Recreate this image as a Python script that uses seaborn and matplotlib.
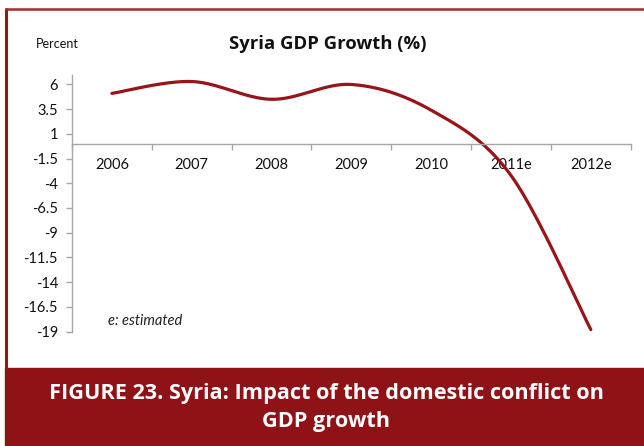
import numpy as np
import pandas as pd
import matplotlib
matplotlib.use("Agg")
import matplotlib.pyplot as plt
import seaborn as sns
from matplotlib.patches import Rectangle
from matplotlib.lines import Line2D

categories = ["2006", "2007", "2008", "2009", "2010", "2011e", "2012e"]
growth = [5.1, 6.3, 4.5, 6.0, 3.4, -3.2, -18.8]
y_ticks = [6, 3.5, 1, -1.5, -4, -6.5, -9, -11.5, -14, -16.5, -19]

RED = "#981418"
BANNER = "#8e1216"
FONT = "Lato"
HEAD = "Open Sans"

sns.set_theme(style="white")
plt.rcParams["font.family"] = [FONT, "DejaVu Sans"]


def smooth(xs, ys, n=40):
    """Excel-like smoothed line (Catmull-Rom Bezier) through the points."""
    P = np.column_stack([xs, ys]).astype(float)
    ext = np.vstack([P[0], P, P[-1]])
    out = []
    for i in range(len(P) - 1):
        p0, p1, p2, p3 = ext[i], ext[i + 1], ext[i + 2], ext[i + 3]
        c1 = p1 + (p2 - p0) / 6.0
        c2 = p2 - (p3 - p1) / 6.0
        t = np.linspace(0, 1, n)[:, None]
        seg = ((1 - t) ** 3) * p1 + 3 * ((1 - t) ** 2) * t * c1 + 3 * (1 - t) * t ** 2 * c2 + t ** 3 * p2
        out.append(seg if i == 0 else seg[1:])
    return np.vstack(out)


fig = plt.figure(figsize=(6.44, 4.46), dpi=100)
W, H = 644, 446

# frame and banner
fig.add_artist(Line2D([6 / W, 6 / W], [1 - 9 / H, 1 - 368 / H], color=RED, lw=2.2, transform=fig.transFigure))
fig.add_artist(Line2D([6 / W, 1], [1 - 9 / H, 1 - 9 / H], color="#b0262b", lw=1.8, transform=fig.transFigure))
fig.add_artist(Rectangle((5 / W, 0), 1, 1 - 368 / H, color=BANNER, transform=fig.transFigure, zorder=0))
fig.text(326 / W, 1 - 393 / H, "FIGURE 23. Syria: Impact of the domestic conflict on",
         color="white", fontsize=15.6, fontweight="bold", family=[HEAD, "DejaVu Sans"],
         ha="center", va="center")
fig.text(326 / W, 1 - 421 / H, "GDP growth",
         color="white", fontsize=15.6, fontweight="bold", family=[HEAD, "DejaVu Sans"],
         ha="center", va="center")

ax = fig.add_axes([72 / W, 114.5 / H, (630.7 - 72) / W, (331.5 - 74.6) / H])
ax.set_facecolor("white")

xs = np.arange(len(categories))
curve = smooth(xs, growth)
df = pd.DataFrame({"x": curve[:, 0], "y": curve[:, 1]})
sns.lineplot(data=df, x="x", y="y", ax=ax, color=RED, lw=2.3, sort=False, estimator=None)

ax.set_xlim(-0.5, len(categories) - 0.5)
ax.set_ylim(-19, 7)
ax.set_yticks(y_ticks)
ax.set_yticklabels([("%g" % v) for v in y_ticks])
ax.set_xticks(xs)
ax.set_xticklabels(categories)
ax.set_xticks(np.arange(-0.5, len(categories), 1), minor=True)
ax.set_xlabel("")
ax.set_ylabel("")

for s in ["top", "right"]:
    ax.spines[s].set_visible(False)
ax.spines["bottom"].set_position(("data", 0))
ax.spines["left"].set_bounds(-19, 7)
for s in ["bottom", "left"]:
    ax.spines[s].set_color("#a6a6a6")
    ax.spines[s].set_linewidth(1.0)

ax.tick_params(axis="y", which="major", left=True, length=4, width=1, color="#a6a6a6",
               labelsize=10.5, labelcolor="#111111", pad=6)
ax.tick_params(axis="x", which="major", bottom=False, length=0, labelsize=10.5,
               labelcolor="#111111", pad=10)
ax.tick_params(axis="x", which="minor", bottom=True, length=4, width=1, color="#a6a6a6")
ax.grid(False)

fig.text(36 / W, 1 - 44 / H, "Percent", fontsize=9, color="#111111", ha="left", va="center")
fig.text(328 / W, 1 - 44 / H, "Syria GDP Growth (%)", fontsize=13.3, fontweight="bold",
         family=[HEAD, "DejaVu Sans"], color="#111111", ha="center", va="center")
fig.text(108 / W, 1 - 321 / H, "e: estimated", fontsize=10.5, style="italic",
         color="#222222", ha="left", va="center")

fig.savefig("out.png", dpi=100, facecolor="white")
